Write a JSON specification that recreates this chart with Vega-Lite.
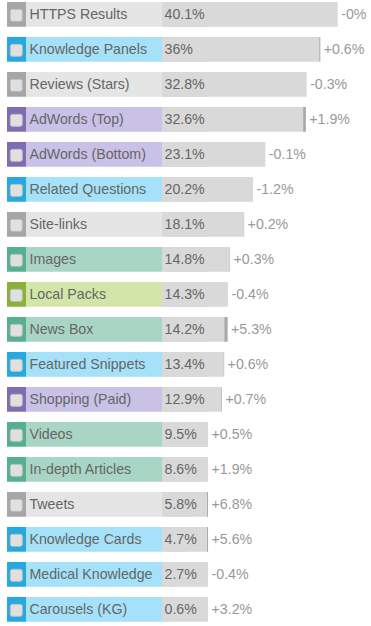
{
  "$schema": "https://vega.github.io/schema/vega-lite/v6.json",
  "width": 371,
  "height": 626,
  "autosize": {"type": "fit", "contains": "padding"},
  "padding": 0,
  "background": "white",
  "config": {
    "view": {"stroke": null},
    "text": {"font": "Liberation Sans"},
    "locale": {"number": {"decimal": ".", "thousands": ",", "grouping": [3], "currency": ["$", ""], "minus": "-"}}
  },
  "data": {
    "values": [
      {"name": "HTTPS Results", "share": 0.401, "change": -0.0001, "previous": 0.401, "group": "organic"},
      {"name": "Knowledge Panels", "share": 0.36, "change": 0.006, "previous": 0.3579, "group": "knowledge"},
      {"name": "Reviews (Stars)", "share": 0.328, "change": -0.003, "previous": 0.329, "group": "organic"},
      {"name": "AdWords (Top)", "share": 0.326, "change": 0.019, "previous": 0.3199, "group": "advertising"},
      {"name": "AdWords (Bottom)", "share": 0.231, "change": -0.001, "previous": 0.2312, "group": "advertising"},
      {"name": "Related Questions", "share": 0.202, "change": -0.012, "previous": 0.2045, "group": "knowledge"},
      {"name": "Site-links", "share": 0.181, "change": 0.002, "previous": 0.1806, "group": "organic"},
      {"name": "Images", "share": 0.148, "change": 0.003, "previous": 0.1476, "group": "vertical"},
      {"name": "Local Packs", "share": 0.143, "change": -0.004, "previous": 0.1436, "group": "local"},
      {"name": "News Box", "share": 0.142, "change": 0.053, "previous": 0.1349, "group": "vertical"},
      {"name": "Featured Snippets", "share": 0.134, "change": 0.006, "previous": 0.1332, "group": "knowledge"},
      {"name": "Shopping (Paid)", "share": 0.129, "change": 0.007, "previous": 0.1281, "group": "advertising"},
      {"name": "Videos", "share": 0.095, "change": 0.005, "previous": 0.0945, "group": "vertical"},
      {"name": "In-depth Articles", "share": 0.086, "change": 0.019, "previous": 0.0844, "group": "vertical"},
      {"name": "Tweets", "share": 0.058, "change": 0.068, "previous": 0.0543, "group": "organic"},
      {"name": "Knowledge Cards", "share": 0.047, "change": 0.056, "previous": 0.0445, "group": "knowledge"},
      {"name": "Medical Knowledge", "share": 0.027, "change": -0.004, "previous": 0.0271, "group": "knowledge"},
      {"name": "Carousels (KG)", "share": 0.006, "change": 0.032, "previous": 0.0058, "group": "knowledge"}
    ]
  },
  "encoding": {
    "y": {
      "field": "name",
      "type": "nominal",
      "sort": null,
      "axis": null,
      "scale": {"paddingInner": 0.294, "paddingOuter": 0.09, "align": 0.32}
    }
  },
  "layer": [
    {
      "mark": {"type": "bar", "color": "#d9d9d9"},
      "encoding": {
        "x": {"field": "share", "type": "quantitative", "axis": null, "scale": {"domain": [-0.3928, 0.4793], "nice": false, "zero": false}},
        "x2": {"datum": -0.012}
      }
    },
    {
      "mark": {"type": "bar"},
      "encoding": {
        "x": {"datum": -0.3763, "type": "quantitative", "axis": null},
        "x2": {"datum": -0.3317},
        "color": {
          "field": "group", "type": "nominal", "legend": null,
          "scale": {"domain": ["organic", "knowledge", "advertising", "vertical", "local"], "range": ["#a6a6a6", "#26a9e0", "#7f6cb1", "#54b08f", "#8ab23a"]}
        }
      }
    },
    {
      "mark": {"type": "bar"},
      "encoding": {
        "x": {"datum": -0.3317, "type": "quantitative", "axis": null},
        "x2": {"datum": -0.012},
        "fill": {
          "field": "group", "type": "nominal", "legend": null,
          "scale": {"domain": ["organic", "knowledge", "advertising", "vertical", "local"], "range": ["#e5e5e5", "#a5e1f8", "#c9c1e6", "#a9d5c5", "#d3e6a9"]}
        }
      }
    },
    {
      "mark": {"type": "bar", "color": "#d9d9d9"},
      "encoding": {
        "x": {"datum": -0.012, "type": "quantitative", "axis": null},
        "x2": {"datum": 0.0962}
      }
    },
    {
      "transform": [{"filter": "datum.previous < datum.share && datum.share >= 0.0962"}],
      "mark": {"type": "bar", "color": "#a9a9a9"},
      "encoding": {
        "x": {"field": "previous", "type": "quantitative", "axis": null},
        "x2": {"field": "share"}
      }
    },
    {
      "transform": [{"filter": "datum.share < 0.0962 && datum.share - datum.previous > 0.002"}],
      "mark": {"type": "bar", "color": "#a9a9a9"},
      "encoding": {
        "x": {"datum": 0.0939, "type": "quantitative", "axis": null},
        "x2": {"datum": 0.0962}
      }
    },
    {
      "mark": {"type": "bar", "fill": "#e0e0e0", "stroke": "#bdbdbd", "strokeWidth": 1, "cornerRadius": 2, "size": 12, "yOffset": 1},
      "encoding": {
        "x": {"datum": -0.3686, "type": "quantitative", "axis": null},
        "x2": {"datum": -0.3404}
      }
    },
    {
      "mark": {"type": "text", "align": "left", "baseline": "middle", "fontSize": 14.2, "color": "#666666", "dy": 1},
      "encoding": {
        "x": {"datum": -0.3235, "type": "quantitative", "axis": null},
        "text": {"field": "name", "type": "nominal"}
      }
    },
    {
      "mark": {"type": "text", "align": "left", "baseline": "middle", "fontSize": 14.2, "color": "#666666", "dy": 1},
      "encoding": {
        "x": {"datum": -0.0061, "type": "quantitative", "axis": null},
        "text": {"field": "share", "type": "quantitative", "format": ".1~%"}
      }
    },
    {
      "transform": [{"filter": "datum.share >= 0.0962"}],
      "mark": {"type": "text", "align": "left", "baseline": "middle", "fontSize": 14.2, "color": "#999999", "dx": 3.5, "dy": 1},
      "encoding": {
        "x": {"field": "share", "type": "quantitative", "axis": null},
        "text": {"field": "change", "type": "quantitative", "format": "+.1~%"}
      }
    },
    {
      "transform": [{"filter": "datum.share < 0.0962"}],
      "mark": {"type": "text", "align": "left", "baseline": "middle", "fontSize": 14.2, "color": "#999999", "dx": 3.5, "dy": 1},
      "encoding": {
        "x": {"datum": 0.0962, "type": "quantitative", "axis": null},
        "text": {"field": "change", "type": "quantitative", "format": "+.1~%"}
      }
    }
  ]
}
